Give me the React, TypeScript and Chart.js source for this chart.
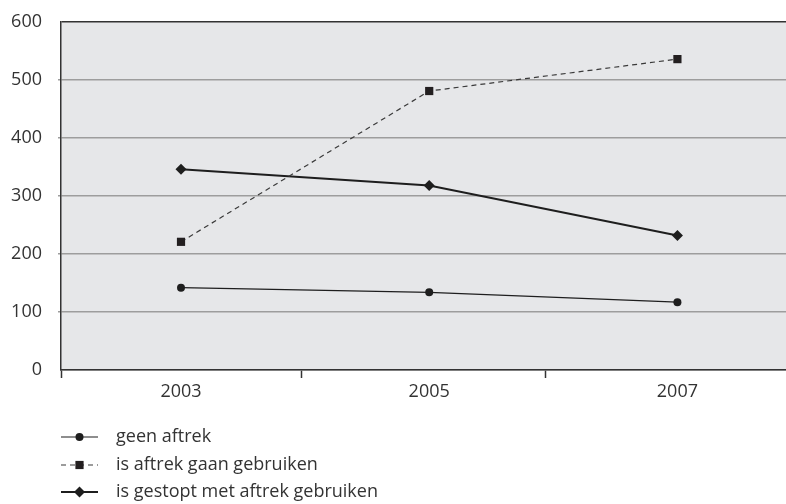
import React, { useEffect, useRef } from 'react';
import { Chart, registerables } from 'chart.js';

Chart.register(...registerables);

const years = [2003, 2005, 2007];
const categoryEdges = [2002.033, 2003.967, 2005.941];
const yTickStep = 100;
const yMax = 600;
const seriesNames = ['geen aftrek', 'is aftrek gaan gebruiken', 'is gestopt met aftrek gebruiken'];
const geenAftrek = [142, 134, 117];
const gaanGebruiken = [221, 481, 536];
const gestopt = [346, 318, 232];

const FONT = '"Open Sans", "DejaVu Sans", sans-serif';
const TEXT = '#333333';

function drawMarker(ctx: CanvasRenderingContext2D, style: string, x: number, y: number, r: number) {
  ctx.beginPath();
  if (style === 'circle') {
    ctx.arc(x, y, r, 0, Math.PI * 2);
  } else if (style === 'rect') {
    const s = r * Math.SQRT1_2;
    ctx.rect(x - s, y - s, 2 * s, 2 * s);
  } else {
    ctx.moveTo(x, y - r);
    ctx.lineTo(x + r, y);
    ctx.lineTo(x, y + r);
    ctx.lineTo(x - r, y);
    ctx.closePath();
  }
  ctx.fill();
}

export default function App() {
  const ref = useRef<HTMLCanvasElement>(null);

  useEffect(() => {
    if (!ref.current) return;

    const bgPlugin = {
      id: 'plotBg',
      beforeDraw(chart: any) {
        const { ctx, chartArea: a } = chart;
        ctx.save();
        ctx.fillStyle = '#e6e7e9';
        ctx.fillRect(a.left, a.top, a.right - a.left, a.bottom - a.top);
        ctx.restore();
      },
    };

    const legendRows = [437, 465, 492];
    const legendPlugin = {
      id: 'customLegend',
      afterDraw(chart: any) {
        const ctx: CanvasRenderingContext2D = chart.ctx;
        ctx.save();
        chart.data.datasets.forEach((ds: any, i: number) => {
          const y = legendRows[i];
          ctx.strokeStyle = ds.borderColor;
          ctx.lineWidth = ds.borderWidth;
          ctx.setLineDash(ds.borderDash || []);
          ctx.beginPath();
          ctx.moveTo(61, y);
          ctx.lineTo(98, y);
          ctx.stroke();
          ctx.setLineDash([]);
          ctx.fillStyle = ds.pointBackgroundColor;
          drawMarker(ctx, ds.pointStyle, 79.5, y, ds.pointRadius);
          ctx.fillStyle = TEXT;
          ctx.font = `18px ${FONT}`;
          ctx.textBaseline = 'middle';
          ctx.textAlign = 'left';
          ctx.fillText(ds.label, 116, y);
        });
        ctx.restore();
      },
    };

    const toPoints = (vals: number[]) => years.map((x, i) => ({ x, y: vals[i] }));

    const chart = new Chart(ref.current, {
      type: 'line',
      data: {
        datasets: [
          {
            label: seriesNames[0],
            data: toPoints(geenAftrek),
            borderColor: '#1e1e1e',
            borderWidth: 1.2,
            pointStyle: 'circle',
            pointRadius: 4,
            pointBackgroundColor: '#1e1e1e',
            pointBorderWidth: 0,
          },
          {
            label: seriesNames[1],
            data: toPoints(gaanGebruiken),
            borderColor: '#3a3a3a',
            borderWidth: 1.2,
            borderDash: [5, 4],
            pointStyle: 'rect',
            pointRadius: 5.8,
            pointBackgroundColor: '#231f20',
            pointBorderWidth: 0,
          },
          {
            label: seriesNames[2],
            data: toPoints(gestopt),
            borderColor: '#1e1e1e',
            borderWidth: 2,
            pointStyle: 'rectRot',
            pointRadius: 5.5,
            pointBackgroundColor: '#1e1e1e',
            pointBorderWidth: 0,
          },
        ] as any,
      },
      options: {
        animation: false,
        responsive: true,
        maintainAspectRatio: false,
        layout: { autoPadding: false, padding: { top: 22, right: 0, left: 0, bottom: 0 } },
        plugins: { legend: { display: false }, tooltip: { enabled: false } },
        scales: {
          x: {
            type: 'linear',
            min: categoryEdges[0],
            max: 2007.875,
            afterBuildTicks: (scale: any) => {
              scale.ticks = [...categoryEdges, ...years].sort((a, b) => a - b).map((v) => ({ value: v }));
            },
            afterFit: (scale: any) => {
              scale.height = 134;
              scale.paddingLeft = 0;
              scale.paddingRight = 0;
            },
            ticks: {
              autoSkip: false,
              maxRotation: 0,
              padding: 3,
              color: TEXT,
              font: { family: FONT, size: 18 },
              callback: (v: any) => (years.includes(Number(v)) ? String(v) : ''),
            },
            grid: {
              drawOnChartArea: false,
              drawTicks: true,
              tickLength: 8,
              tickWidth: 1.5,
              tickColor: (c: any) => (years.includes(c.tick?.value) ? 'rgba(0,0,0,0)' : '#333333'),
            },
            border: { display: true, color: '#333333', width: 1.5 },
          },
          y: {
            min: 0,
            max: yMax,
            afterFit: (scale: any) => {
              scale.width = 61;
              scale.paddingTop = 5;
              scale.paddingBottom = 5;
            },
            ticks: {
              stepSize: yTickStep,
              padding: 16,
              color: TEXT,
              font: { family: FONT, size: 18 },
            },
            grid: {
              color: (c: any) => (c.tick?.value === yMax ? '#333333' : '#9d9d9d'),
              lineWidth: 1.5,
              tickLength: 3,
              tickColor: (c: any) =>
                c.tick?.value === yMax || c.tick?.value === 0 ? 'rgba(0,0,0,0)' : '#9d9d9d',
            },
            border: { display: true, color: '#333333', width: 1.5 },
          },
        },
      } as any,
      plugins: [bgPlugin, legendPlugin],
    });

    return () => chart.destroy();
  }, []);

  return (
    <div style={{ position: 'fixed', left: 0, top: 0, width: 786, height: 504, background: '#ffffff' }}>
      <canvas ref={ref} />
    </div>
  );
}
